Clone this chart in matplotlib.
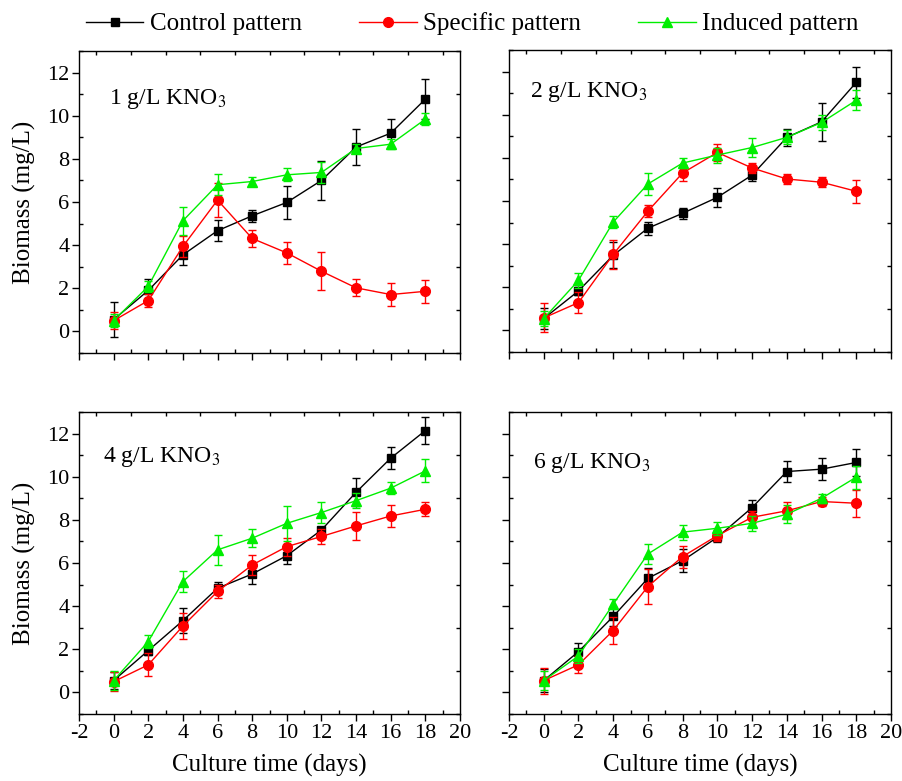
import matplotlib
matplotlib.use("Agg")
import matplotlib.pyplot as plt
from matplotlib.ticker import MultipleLocator
from matplotlib.lines import Line2D

plt.rcParams['font.family'] = ['Liberation Serif', 'DejaVu Serif']
plt.rcParams['mathtext.fontset'] = 'stix'
plt.rcParams['axes.unicode_minus'] = False

days = [0, 2, 4, 6, 8, 10, 12, 14, 16, 18]
series_names = ["Control pattern", "Specific pattern", "Induced pattern"]
panel_labels = ["1 g/L KNO$_3$", "2 g/L KNO$_3$", "4 g/L KNO$_3$", "6 g/L KNO$_3$"]

# 1 g/L
c1 = [0.55, 1.9, 3.55, 4.67, 5.36, 5.98, 7.0, 8.55, 9.19, 10.77]
c1e = [0.8, 0.55, 0.45, 0.5, 0.28, 0.77, 0.92, 0.83, 0.67, 0.94]
s1 = [0.5, 1.43, 3.94, 6.09, 4.31, 3.64, 2.79, 2.02, 1.71, 1.86]
s1e = [0.38, 0.32, 0.5, 0.8, 0.41, 0.5, 0.87, 0.39, 0.55, 0.53]
i1 = [0.5, 2.09, 5.13, 6.8, 6.95, 7.26, 7.37, 8.48, 8.68, 9.84]
i1e = [0.3, 0.27, 0.64, 0.49, 0.22, 0.3, 0.5, 0.2, 0.23, 0.27]

# 2 g/L
c2 = [0.55, 1.83, 3.48, 4.74, 5.43, 6.17, 7.2, 8.95, 9.67, 11.5]
c2e = [0.5, 0.2, 0.6, 0.3, 0.25, 0.45, 0.25, 0.4, 0.87, 0.72]
s2 = [0.58, 1.29, 3.52, 5.53, 7.3, 8.25, 7.53, 7.02, 6.87, 6.45]
s2e = [0.67, 0.48, 0.66, 0.27, 0.37, 0.38, 0.25, 0.22, 0.22, 0.52]
i2 = [0.55, 2.32, 5.02, 6.79, 7.76, 8.13, 8.48, 8.95, 9.64, 10.67]
i2e = [0.35, 0.34, 0.29, 0.5, 0.25, 0.35, 0.45, 0.33, 0.36, 0.46]

# 4 g/L
c4 = [0.55, 1.94, 3.33, 4.83, 5.49, 6.34, 7.53, 9.28, 10.86, 12.14]
c4e = [0.38, 0.2, 0.58, 0.28, 0.46, 0.39, 0.15, 0.64, 0.5, 0.62]
s4 = [0.5, 1.28, 3.08, 4.68, 5.91, 6.76, 7.23, 7.72, 8.18, 8.49]
s4e = [0.43, 0.54, 0.62, 0.29, 0.45, 0.42, 0.35, 0.66, 0.49, 0.32]
i4 = [0.55, 2.36, 5.14, 6.61, 7.15, 7.84, 8.34, 8.89, 9.47, 10.27]
i4e = [0.46, 0.29, 0.5, 0.68, 0.42, 0.8, 0.49, 0.35, 0.27, 0.53]

# 6 g/L
c6 = [0.55, 1.89, 3.52, 5.29, 6.11, 7.19, 8.57, 10.24, 10.35, 10.66]
c6e = [0.52, 0.4, 0.46, 0.46, 0.53, 0.23, 0.37, 0.48, 0.5, 0.62]
s6 = [0.55, 1.28, 2.87, 4.91, 6.3, 7.27, 8.12, 8.42, 8.85, 8.77]
s6e = [0.6, 0.4, 0.62, 0.79, 0.51, 0.27, 0.27, 0.39, 0.2, 0.63]
i6 = [0.55, 1.69, 4.09, 6.42, 7.43, 7.61, 7.84, 8.26, 9.0, 9.98]
i6e = [0.45, 0.33, 0.23, 0.48, 0.35, 0.31, 0.35, 0.42, 0.22, 0.53]

panels = [
    [(c1, c1e), (s1, s1e), (i1, i1e)],
    [(c2, c2e), (s2, s2e), (i2, i2e)],
    [(c4, c4e), (s4, s4e), (i4, i4e)],
    [(c6, c6e), (s6, s6e), (i6, i6e)],
]

colors = ["#000000", "#ff0000", "#00ee00"]
markers = ["s", "o", "^"]
msizes = [5.5, 7, 7.5]

W, H = 902, 781
fig = plt.figure(figsize=(W / 100, H / 100), dpi=100)

boxes = [
    (79, 51, 460, 353),
    (509, 50, 891, 352),
    (79, 412, 460, 714),
    (509, 412, 891, 714),
]
text_pos = [(0.08, 0.84), (0.055, 0.86), (0.063, 0.85), (0.063, 0.83)]

for k, (x0, y0, x1, y1) in enumerate(boxes):
    ax = fig.add_axes([x0 / W, 1 - y1 / H, (x1 - x0) / W, (y1 - y0) / H])
    for j, (vals, errs) in enumerate(panels[k]):
        ax.errorbar(days, vals, yerr=errs, color=colors[j], marker=markers[j],
                    markersize=msizes[j], linewidth=1.0, elinewidth=1.0,
                    capsize=3.0, capthick=1.0, zorder=3 + j)
    ax.set_xlim(-2, 20)
    ax.set_ylim(-1, 13)
    ax.xaxis.set_major_locator(MultipleLocator(2))
    ax.xaxis.set_minor_locator(MultipleLocator(1))
    ax.yaxis.set_major_locator(MultipleLocator(2))
    ax.yaxis.set_minor_locator(MultipleLocator(1))
    ax.tick_params(which='major', direction='out', length=5, width=1,
                   labelsize=16, top=False, right=False, pad=2)
    ax.tick_params(which='minor', direction='in', length=3, width=1,
                   top=True, right=True)
    for sp in ax.spines.values():
        sp.set_linewidth(1.0)
    if k < 2:
        ax.tick_params(labelbottom=False)
    else:
        ax.set_xlabel("Culture time (days)", fontsize=18, labelpad=8)
    if k % 2 == 1:
        ax.tick_params(labelleft=False)
    else:
        ax.set_ylabel("Biomass (mg/L)", fontsize=18, labelpad=8)
    tx, ty = text_pos[k]
    ax.text(tx, ty, panel_labels[k], transform=ax.transAxes, fontsize=17,
            va='center', ha='left')

handles = [Line2D([0], [0], color=colors[j], marker=markers[j],
                  markersize=msizes[j], linewidth=1.0) for j in range(3)]
fig.legend(handles, series_names, loc='center', ncol=3, frameon=False,
           bbox_to_anchor=(472 / W, 1 - 24 / H), fontsize=18,
           handlelength=2.3, columnspacing=2.3, handletextpad=0.25)

fig.savefig("out.png", dpi=100)
